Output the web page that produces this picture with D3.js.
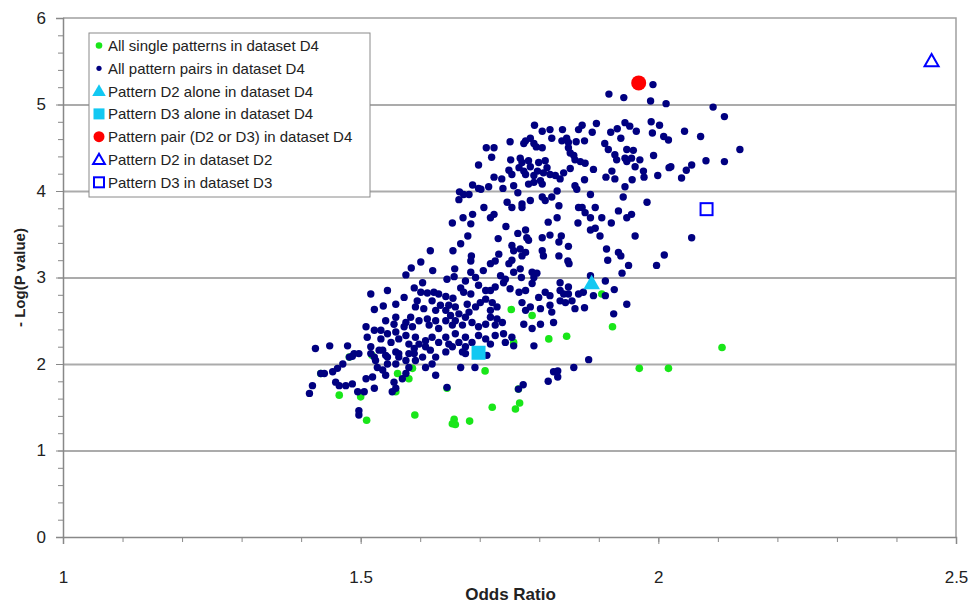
<!DOCTYPE html>
<html>
<head>
<meta charset="utf-8">
<script src="https://cdn.jsdelivr.net/npm/d3@7"></script>
<style>
  body { margin: 0; background: #fff; }
  svg text { font-family: "Liberation Sans", Arial, sans-serif; }
</style>
</head>
<body>
<div class="chart"></div>
<script>
// odds ratio / -log(p) values
var xTicks = [1, 1.5, 2, 2.5];
var yTicks = [0, 1, 2, 3, 4, 5, 6];

var singlePoints = [
  [1.519,2.10],[1.562,1.89],[1.581,1.83],[1.500,1.62],[1.464,1.64],[1.510,1.35],[1.591,1.41],
  [1.657,1.36],[1.654,1.31],[1.659,1.30],[1.683,1.34],[1.721,1.50],[1.645,1.72],[1.709,1.92],
  [1.559,1.68],[1.587,1.95],[1.753,2.63],[1.788,2.56],[1.816,2.29],[1.846,2.32],[1.923,2.43],
  [1.905,2.81],[1.757,2.25],[1.767,1.55],[1.760,1.48],[1.765,1.71],[1.968,1.95],[2.017,1.95],
  [2.107,2.19],[1.433,1.89],[1.481,2.08]
];

var pairPoints = [
  [1.991,5.23],[1.917,5.12],[1.942,5.08],[1.987,5.04],[2.013,5.01],
  [1.792,4.76],[1.805,4.69],[1.818,4.71],[1.839,4.71],[1.866,4.71],[1.872,4.76],[1.896,4.78],[1.889,4.68],
  [1.920,4.68],[1.931,4.72],[1.944,4.79],[1.952,4.75],[1.963,4.69],[1.988,4.80],[2.002,4.76],[1.990,4.67],
  [2.009,4.63],[2.017,4.59],[1.751,4.57],[1.711,4.50],[1.724,4.50],[1.777,4.58],[1.785,4.61],[1.774,4.55],
  [1.791,4.55],[1.805,4.50],[1.795,4.51],[1.821,4.61],[1.838,4.58],[1.846,4.61],[1.849,4.56],[1.862,4.57],
  [1.876,4.58],[1.910,4.55],[1.937,4.61],[1.849,4.50],[1.852,4.44],[1.858,4.41],[1.860,4.36],[1.869,4.34],
  [1.877,4.32],[1.916,4.48],[1.927,4.42],[1.930,4.36],[1.944,4.38],[1.947,4.48],[1.958,4.47],[1.955,4.38],
  [1.969,4.36],[1.961,4.28],[1.947,4.34],[1.992,4.41],[2.018,4.27],[2.021,4.28],[1.698,4.30],[1.720,4.39],
  [1.752,4.36],[1.749,4.24],[1.754,4.19],[1.768,4.38],[1.771,4.33],[1.766,4.27],[1.774,4.23],[1.782,4.35],
  [1.785,4.28],[1.777,4.19],[1.791,4.18],[1.797,4.23],[1.799,4.33],[1.810,4.35],[1.813,4.27],[1.807,4.21],
  [1.818,4.19],[1.827,4.18],[1.835,4.14],[1.841,4.21],[1.852,4.26],[1.724,4.16],[1.737,4.14],[1.715,4.05],
  [1.739,4.03],[1.702,4.02],[1.757,4.06],[1.764,3.98],[1.782,4.08],[1.791,4.10],[1.802,4.12],[1.805,4.08],
  [1.830,4.00],[1.860,4.06],[1.863,4.02],[1.876,4.13],[1.891,4.25],[1.912,4.16],[1.922,4.23],[1.927,4.14],
  [1.944,4.05],[1.956,4.13],[1.975,4.23],[1.976,4.16],[1.999,4.18],[1.698,4.03],
  [1.707,3.81],[1.724,3.73],[1.718,3.69],[1.746,3.87],[1.754,3.81],[1.771,3.85],[1.771,3.81],[1.785,3.89],
  [1.805,3.93],[1.810,3.89],[1.821,3.93],[1.833,3.83],[1.830,3.69],[1.866,3.81],[1.872,3.81],[1.877,3.75],
  [1.886,3.69],[1.894,3.81],[1.886,3.96],[1.905,3.69],[1.933,3.77],[1.941,3.93],[1.955,3.73],[1.947,3.69],
  [1.981,3.87],
  [2.092,4.97],[2.111,4.86],[2.044,4.69],[2.071,4.63],[2.137,4.48],[2.047,4.24],[2.056,4.30],[2.039,4.15],
  [2.080,4.35],[2.111,4.34],[2.056,3.46],[2.010,3.26],
  [1.688,4.07],[1.666,3.99],[1.673,3.96],[1.682,3.96],[1.665,3.90],[1.688,3.73],[1.672,3.69],
  [1.654,3.63],[1.685,3.62],[1.680,3.48],[1.668,3.39],[1.655,3.31],[1.617,3.31],[1.686,3.25],[1.685,3.19],
  [1.718,3.16],[1.726,3.19],[1.601,3.18],[1.585,3.11],[1.621,3.08],[1.658,3.10],[1.657,3.01],[1.576,3.03],
  [1.645,2.98],[1.676,2.96],[1.685,3.06],[1.693,3.00],[1.706,3.08],[1.604,2.94],[1.517,2.81],[1.545,2.85],
  [1.590,2.88],[1.601,2.83],[1.612,2.82],[1.623,2.83],[1.631,2.81],[1.643,2.78],[1.655,2.76],[1.668,2.88],
  [1.673,2.83],[1.685,2.81],[1.698,2.91],[1.710,2.85],[1.718,2.85],[1.726,2.89],[1.573,2.77],[1.559,2.69],
  [1.523,2.63],[1.538,2.67],[1.595,2.73],[1.592,2.66],[1.606,2.64],[1.620,2.73],[1.634,2.68],[1.626,2.62],
  [1.648,2.68],[1.659,2.66],[1.665,2.58],[1.651,2.56],[1.643,2.62],[1.679,2.69],[1.682,2.60],[1.693,2.66],
  [1.701,2.71],[1.710,2.75],[1.721,2.71],[1.718,2.62],[1.729,2.66],
  [1.542,2.50],[1.559,2.54],[1.556,2.46],[1.576,2.48],[1.584,2.54],[1.573,2.43],[1.587,2.43],[1.598,2.50],
  [1.612,2.52],[1.615,2.45],[1.626,2.50],[1.631,2.41],[1.643,2.50],[1.654,2.45],[1.659,2.50],[1.671,2.45],
  [1.676,2.54],[1.687,2.48],[1.698,2.43],[1.710,2.46],[1.718,2.54],[1.726,2.45],
  [1.509,2.43],[1.511,2.31],[1.523,2.39],[1.534,2.39],[1.534,2.29],[1.545,2.35],[1.551,2.25],[1.559,2.37],
  [1.564,2.29],[1.576,2.33],[1.581,2.23],[1.592,2.31],[1.598,2.23],[1.609,2.27],[1.620,2.31],[1.631,2.25],
  [1.643,2.31],[1.648,2.23],[1.659,2.35],[1.665,2.25],[1.676,2.31],[1.687,2.25],[1.698,2.33],[1.710,2.29],
  [1.718,2.23],[1.726,2.33],
  [1.424,2.18],[1.448,2.21],[1.478,2.21],[1.486,2.09],[1.497,2.12],[1.517,2.20],[1.523,2.08],[1.537,2.16],
  [1.545,2.08],[1.559,2.14],[1.564,2.08],[1.581,2.12],[1.590,2.18],[1.604,2.08],[1.617,2.16],[1.626,2.08],
  [1.643,2.14],[1.654,2.20],[1.671,2.14],[1.676,2.20],[1.712,2.10],
  [1.744,3.59],[1.764,3.51],[1.777,3.55],[1.779,3.46],[1.782,3.43],[1.815,3.64],[1.865,3.63],[1.886,3.55],
  [1.894,3.57],[1.921,3.63],[1.902,3.48],[1.961,3.48],[1.805,3.46],[1.818,3.49],[1.837,3.48],[1.833,3.41],
  [1.849,3.36],[1.731,3.45],[1.754,3.37],[1.757,3.31],[1.768,3.33],[1.777,3.29],[1.771,3.25],[1.754,3.20],
  [1.749,3.16],[1.732,3.27],[1.805,3.31],[1.807,3.25],[1.833,3.25],[1.848,3.19],[1.850,3.16],[1.913,3.33],
  [1.915,3.20],[1.933,3.29],[1.937,3.25],[1.950,3.14],[1.939,3.05],[1.997,3.14],
  [1.757,3.06],[1.768,3.10],[1.788,3.06],[1.796,3.05],[1.791,3.00],[1.770,3.00],[1.743,2.98],[1.735,3.02],
  [1.740,2.94],[1.751,2.87],[1.766,2.83],[1.777,2.85],[1.788,2.93],[1.799,2.77],[1.810,2.83],[1.818,2.79],
  [1.835,2.85],[1.835,2.73],[1.841,2.81],[1.849,2.81],[1.844,2.71],[1.855,2.73],[1.866,2.81],[1.874,2.83],
  [1.886,3.02],[1.891,2.79],[1.911,2.96],[1.926,2.86],[1.911,2.79],[1.947,2.69],[1.925,2.58],[1.860,2.64],
  [1.876,2.65],[1.729,2.52],[1.738,2.48],[1.740,2.35],[1.754,2.31],[1.757,2.21],[1.743,2.25],[1.774,2.46],
  [1.788,2.41],[1.802,2.46],[1.824,2.48],[1.791,2.21],[1.883,2.05],[1.771,2.71],[1.777,2.62],[1.785,2.66],
  [1.802,2.64],[1.818,2.68],[1.821,2.60],[1.835,2.94],[1.849,2.89],
  [1.414,1.66],[1.419,1.75],[1.433,1.89],[1.439,1.89],[1.453,1.91],[1.461,1.95],[1.470,2.00],[1.481,2.08],
  [1.489,2.12],[1.458,1.79],[1.464,1.75],[1.475,1.75],[1.486,1.77],[1.495,1.68],[1.509,1.83],[1.520,1.85],
  [1.523,1.72],[1.506,1.68],[1.528,1.96],[1.537,1.93],[1.542,1.87],[1.559,2.00],[1.556,1.79],[1.559,1.72],
  [1.553,1.68],[1.570,1.83],[1.576,1.89],[1.581,1.96],[1.592,2.04],[1.609,1.96],[1.620,2.00],[1.626,1.87],
  [1.497,1.46],[1.497,1.41],[1.668,1.96],[1.692,1.96],[1.676,2.12],[1.645,1.73],
  [1.517,2.12],[1.525,2.04],[1.531,2.16],[1.542,2.10],[1.545,2.00],[1.564,2.12],[1.576,2.04],[1.590,2.12],
  [1.609,2.20],
  [1.858,1.96],[1.824,1.91],[1.831,1.92],[1.831,1.85],[1.815,1.80],[1.773,1.76],[1.765,1.71]
];

var pairD4 = [1.967, 5.25];
var d2AloneD4 = [1.888, 2.92];
var d3AloneD4 = [1.698, 2.13];
var d2InD2 = [2.459, 5.49];
var d3InD3 = [2.081, 3.79];

var legendLabels = [
  'All single patterns in dataset D4',
  'All pattern pairs in dataset D4',
  'Pattern D2 alone in dataset D4',
  'Pattern D3 alone in dataset D4',
  'Pattern pair (D2 or D3) in dataset D4',
  'Pattern D2 in dataset D2',
  'Pattern D3 in dataset D3'
];

var W = 970, H = 605;
var margin = {top: 18, right: 14, bottom: 68, left: 63};

var svg = d3.select('.chart').append('svg')
  .attr('width', W)
  .attr('height', H);

var x = d3.scaleLinear().domain([1, 2.5]).range([margin.left, W - margin.right]);
var y = d3.scaleLinear().domain([0, 6]).range([H - margin.bottom, margin.top]);

var green = '#19e619', navy = '#000080', cyan = '#12c8f2', blue = '#0000ff';

// gridlines
svg.append('g')
  .attr('transform', 'translate(' + margin.left + ',0)')
  .call(d3.axisLeft(y).tickValues([1, 2, 3, 4, 5]).tickSize(-(x.range()[1] - x.range()[0])).tickFormat(''))
  .call(function(g) { g.select('.domain').remove() })
  .selectAll('line')
  .attr('stroke', '#ababab')
  .attr('stroke-width', 2);

// plot border (top, right)
svg.append('path')
  .attr('d', 'M' + x(1) + ',' + y(6) + 'H' + x(2.5) + 'V' + y(0))
  .attr('fill', 'none')
  .attr('stroke', '#a0a0a0')
  .attr('stroke-width', 1.5);

// minor ticks
svg.append('g')
  .attr('transform', 'translate(0,' + y(0) + ')')
  .call(d3.axisBottom(x).tickValues(d3.range(1, 2.51, 0.1)).tickSize(5).tickFormat(''))
  .call(function(g) { g.select('.domain').remove() })
  .selectAll('line').attr('stroke', '#888');

svg.append('g')
  .attr('transform', 'translate(' + margin.left + ',0)')
  .call(d3.axisLeft(y).tickValues(d3.range(0, 6.01, 0.2)).tickSize(5).tickFormat(''))
  .call(function(g) { g.select('.domain').remove() })
  .selectAll('line').attr('stroke', '#888');

// main axes
var xAxis = svg.append('g')
  .attr('transform', 'translate(0,' + y(0) + ')')
  .call(d3.axisBottom(x).tickValues(xTicks).tickSize(7).tickPadding(27).tickFormat(d3.format('')));

var yAxis = svg.append('g')
  .attr('transform', 'translate(' + margin.left + ',0)')
  .call(d3.axisLeft(y).tickValues(yTicks).tickSize(7).tickPadding(10).tickFormat(d3.format('d')));

[xAxis, yAxis].forEach(function(a) {
  a.select('.domain').attr('stroke', '#888').attr('stroke-width', 1.5);
  a.selectAll('line').attr('stroke', '#888');
  a.selectAll('text').attr('font-size', 17).attr('fill', '#222')
    .style('font-family', '"Liberation Sans", Arial, sans-serif');
});

svg.append('text')
  .attr('x', (x(1) + x(2.5)) / 2 + 1)
  .attr('y', 600)
  .attr('text-anchor', 'middle')
  .attr('font-size', 17)
  .attr('font-weight', 'bold')
  .attr('fill', '#222')
  .text('Odds Ratio');

svg.append('text')
  .attr('transform', 'translate(25,' + y(3) + ') rotate(-90)')
  .attr('text-anchor', 'middle')
  .attr('font-size', 15)
  .attr('font-weight', 'bold')
  .attr('fill', '#222')
  .text('- Log(P value)');

// points
var pts = svg.append('g');

pts.selectAll('.single')
  .data(singlePoints)
  .enter()
  .append('circle')
  .attr('class', 'single')
  .attr('cx', function(d) { return x(d[0]) })
  .attr('cy', function(d) { return y(d[1]) })
  .attr('r', 3.8)
  .attr('fill', green);

pts.selectAll('.pair')
  .data(pairPoints)
  .enter()
  .append('circle')
  .attr('class', 'pair')
  .attr('cx', function(d) { return x(d[0]) })
  .attr('cy', function(d) { return y(d[1]) })
  .attr('r', 3.7)
  .attr('fill', navy);

var tri = d3.symbol().type(d3.symbolTriangle);

pts.append('path')
  .attr('d', tri.size(120)())
  .attr('transform', 'translate(' + x(d2AloneD4[0]) + ',' + y(d2AloneD4[1]) + ')')
  .attr('fill', cyan);

pts.append('rect')
  .attr('x', x(d3AloneD4[0]) - 7)
  .attr('y', y(d3AloneD4[1]) - 7)
  .attr('width', 14)
  .attr('height', 14)
  .attr('fill', cyan);

pts.append('circle')
  .attr('cx', x(pairD4[0]))
  .attr('cy', y(pairD4[1]))
  .attr('r', 7.5)
  .attr('fill', '#ff0000');

pts.append('path')
  .attr('d', tri.size(85)())
  .attr('transform', 'translate(' + x(d2InD2[0]) + ',' + y(d2InD2[1]) + ')')
  .attr('fill', 'none')
  .attr('stroke', blue)
  .attr('stroke-width', 2);

pts.append('rect')
  .attr('x', x(d3InD3[0]) - 6)
  .attr('y', y(d3InD3[1]) - 6)
  .attr('width', 12)
  .attr('height', 12)
  .attr('fill', 'none')
  .attr('stroke', blue)
  .attr('stroke-width', 2);

// legend
var legend = svg.append('g').attr('transform', 'translate(89,33)');

legend.append('rect')
  .attr('width', 281)
  .attr('height', 164)
  .attr('fill', '#fff')
  .attr('stroke', '#8a8a8a')
  .attr('stroke-width', 1);

var row = legend.selectAll('.row')
  .data(legendLabels)
  .enter()
  .append('g')
  .attr('class', 'row')
  .attr('transform', function(d, i) { return 'translate(0,' + (12.5 + i * 22.8) + ')' });

row.append('text')
  .attr('x', 19)
  .attr('y', 5.5)
  .attr('font-size', 15)
  .attr('fill', '#222')
  .text(function(d) { return d });

function legendMark(g, i) {
  if (i === 0) g.append('circle').attr('cx', 10).attr('r', 3.3).attr('fill', green);
  if (i === 1) g.append('circle').attr('cx', 10).attr('r', 2.6).attr('fill', navy);
  if (i === 2) g.append('path').attr('d', tri.size(80)()).attr('transform', 'translate(10,1)').attr('fill', cyan);
  if (i === 3) g.append('rect').attr('x', 4.5).attr('y', -5.5).attr('width', 11).attr('height', 11).attr('fill', cyan);
  if (i === 4) g.append('circle').attr('cx', 10).attr('r', 5.5).attr('fill', '#ff0000');
  if (i === 5) g.append('path').attr('d', tri.size(60)()).attr('transform', 'translate(10,1)')
    .attr('fill', 'none').attr('stroke', blue).attr('stroke-width', 2);
  if (i === 6) g.append('rect').attr('x', 5).attr('y', -5).attr('width', 10).attr('height', 10)
    .attr('fill', 'none').attr('stroke', blue).attr('stroke-width', 2);
}

row.each(function(d, i) { legendMark(d3.select(this), i) });
</script>
</body>
</html>
